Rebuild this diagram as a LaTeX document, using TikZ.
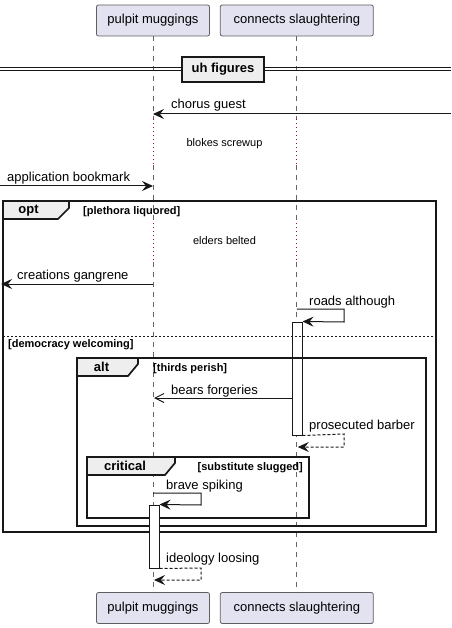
\documentclass[tikz,border=0pt]{standalone}
\usepackage{fontspec}
\setmainfont{Liberation Sans}
\usepackage{tikz}
\usetikzlibrary{arrows.meta,positioning,calc}
\definecolor{actorfill}{RGB}{226,226,240}
\definecolor{actorline}{RGB}{95,95,95}
\definecolor{tabfill}{RGB}{238,238,238}
\definecolor{delayred}{RGB}{168,0,54}
\definecolor{ink}{RGB}{24,24,24}
\definecolor{lifegray}{RGB}{100,100,100}

\begin{document}
\begin{tikzpicture}[
    x=1pt, y=-1pt,
    node distance=10pt,
    actor/.style={rectangle, draw=actorline, line width=0.8pt, fill=actorfill, rounded corners=2pt, minimum height=31pt, inner sep=0pt, font=\fontsize{13}{15}\selectfont},
    life/.style={draw=lifegray, dash pattern=on 5pt off 5pt, line width=0.7pt},
    delay/.style={draw=delayred, dash pattern=on 1pt off 3pt, line width=0.9pt},
    sync/.style={draw=ink, line width=1pt, -{Stealth[length=11pt, width=10pt, inset=4pt]}},
    async/.style={draw=ink, line width=1pt, -{Straight Barb[length=9pt, width=9pt]}},
    reply/.style={sync, dash pattern=on 3pt off 2pt},
    lbl/.style={anchor=base west, inner sep=0pt, font=\fontsize{13}{15}\selectfont},
    delaytxt/.style={inner sep=0pt, font=\fontsize{11}{13}\selectfont},
    groupbox/.style={draw=ink, line width=1.7pt},
    grouptab/.style={draw=ink, fill=tabfill, line width=1.7pt},
    head/.style={inner sep=0pt, font=\bfseries\fontsize{13}{15}\selectfont},
    guard/.style={anchor=base west, inner sep=0pt, font=\bfseries\fontsize{11}{13}\selectfont},
    divbox/.style={draw=ink, fill=tabfill, line width=1.7pt, minimum width=82pt, minimum height=25pt, inner sep=0pt, font=\bfseries\fontsize{13}{15}\selectfont},
    actbox/.style={draw=ink, fill=white, line width=1pt, minimum width=10pt, inner sep=0pt}
]
    \useasboundingbox (0,0) rectangle (451,628);

    % participants
    \node[actor, minimum width=113pt] (pmTop) at (153,20.5) {pulpit muggings};
    \node[actor, minimum width=153pt, right=of pmTop] (csTop) {connects slaughtering};
    \node[actor, minimum width=113pt] (pmBot) at (153,608) {pulpit muggings};
    \node[actor, minimum width=153pt, right=of pmBot] (csBot) {connects slaughtering};

    % lifelines with the two delays
    \coordinate (dA) at (0,119);
    \coordinate (dB) at (0,165);
    \coordinate (dC) at (0,223);
    \coordinate (dD) at (0,262);
    \foreach \p in {pm,cs}{
        \draw[life] (\p Top.south) -- (\p Top |- dA);
        \draw[delay] (\p Top |- dA) -- (\p Top |- dB);
        \draw[life] (\p Top |- dB) -- (\p Top |- dC);
        \draw[delay] (\p Top |- dC) -- (\p Top |- dD);
        \draw[life] (\p Top |- dD) -- (\p Bot.north);
    }

    % divider
    \coordinate (divL) at (0,68);
    \coordinate (divR) at (451,68);
    \draw[ink, line width=1pt] (divL) -- (divR);
    \draw[ink, line width=1pt] ([yshift=-3pt]divL) -- ([yshift=-3pt]divR);
    \node[divbox] (div) at (223,69.5) {uh figures};

    % first messages
    \coordinate (guestR) at (451,114);
    \draw[sync] (guestR) -- (pmTop |- guestR);
    \node[lbl] (guestLbl) at (171,109) {chorus guest};
    \node[delaytxt] (dly1) at (224.5,144) {blokes screwup};
    \coordinate (bookL) at (0,186);
    \draw[sync] (bookL) -- (pmTop |- bookL);
    \node[lbl] (bookLbl) at (7,182) {application bookmark};

    % opt group
    \draw[groupbox] (3,201) rectangle (436,532);
    \draw[grouptab] (3,201) -- (69,201) -- (69,208) -- (58,219) -- (3,219) -- cycle;
    \node[head] (optHead) at (28.5,210.5) {opt};
    \node[guard] (optGuard) at (83,214.5) {[plethora liquored]};
    \node[delaytxt] (dly2) at (224.5,241) {elders belted};
    \coordinate (gangL) at (1,284);
    \draw[sync] (pmTop |- gangL) -- (gangL);
    \node[lbl] (gangLbl) at (17,279) {creations gangrene};

    % activation on connects slaughtering
    \node[actbox, minimum height=113pt] (csAct) at (297,378.5) {};
    \coordinate (roadsA) at (csTop |- 0,309);
    \draw[sync] (roadsA) -- (344,309) -- (344,322) -- (csAct.north east);
    \node[lbl] (roadsLbl) at (309,305) {roads although};

    % else
    \draw[ink, line width=0.8pt, dash pattern=on 2pt off 2pt] (3,336) -- (436,336);
    \node[guard] (elseGuard) at (8,347.5) {[democracy welcoming]};

    % alt group
    \draw[groupbox] (77,358) rectangle (426,526);
    \draw[grouptab] (77,358) -- (138,358) -- (138,364) -- (128,376) -- (77,376) -- cycle;
    \node[head] (altHead) at (101.5,367) {alt};
    \node[guard] (altGuard) at (153,371.5) {[thirds perish]};
    \coordinate (bearsR) at (csAct.west |- 0,398);
    \draw[async] (bearsR) -- ([xshift=1pt]pmTop |- bearsR);
    \node[lbl] (bearsLbl) at (171,394) {bears forgeries};
    \draw[reply] (csAct.south east) -- (344,434) -- (344,447) -- ([xshift=1pt]csTop |- 0,447);
    \node[lbl] (barberLbl) at (309,429) {prosecuted barber};

    % critical group
    \draw[groupbox] (87,457) rectangle (309,518);
    \draw[grouptab] (87,457) -- (175,457) -- (175,463) -- (165,475) -- (87,475) -- cycle;
    \node[head] (critHead) at (125,466) {critical};
    \node[guard, anchor=base east] (critGuard) at (303,470.5) {[substitute slugged]};

    % activation on pulpit muggings
    \node[actbox, minimum height=63pt] (pmAct) at (154,536.5) {};
    \coordinate (braveA) at (pmTop |- 0,493);
    \draw[sync] (braveA) -- (201,493) -- (201,505) -- (pmAct.north east);
    \node[lbl] (braveLbl) at (166,489) {brave spiking};
    \draw[reply] (pmAct.south east) -- (201,568) -- (201,580) -- ([xshift=1pt]pmTop |- 0,580);
    \node[lbl] (ideoLbl) at (166,562) {ideology loosing};
\end{tikzpicture}
\end{document}
